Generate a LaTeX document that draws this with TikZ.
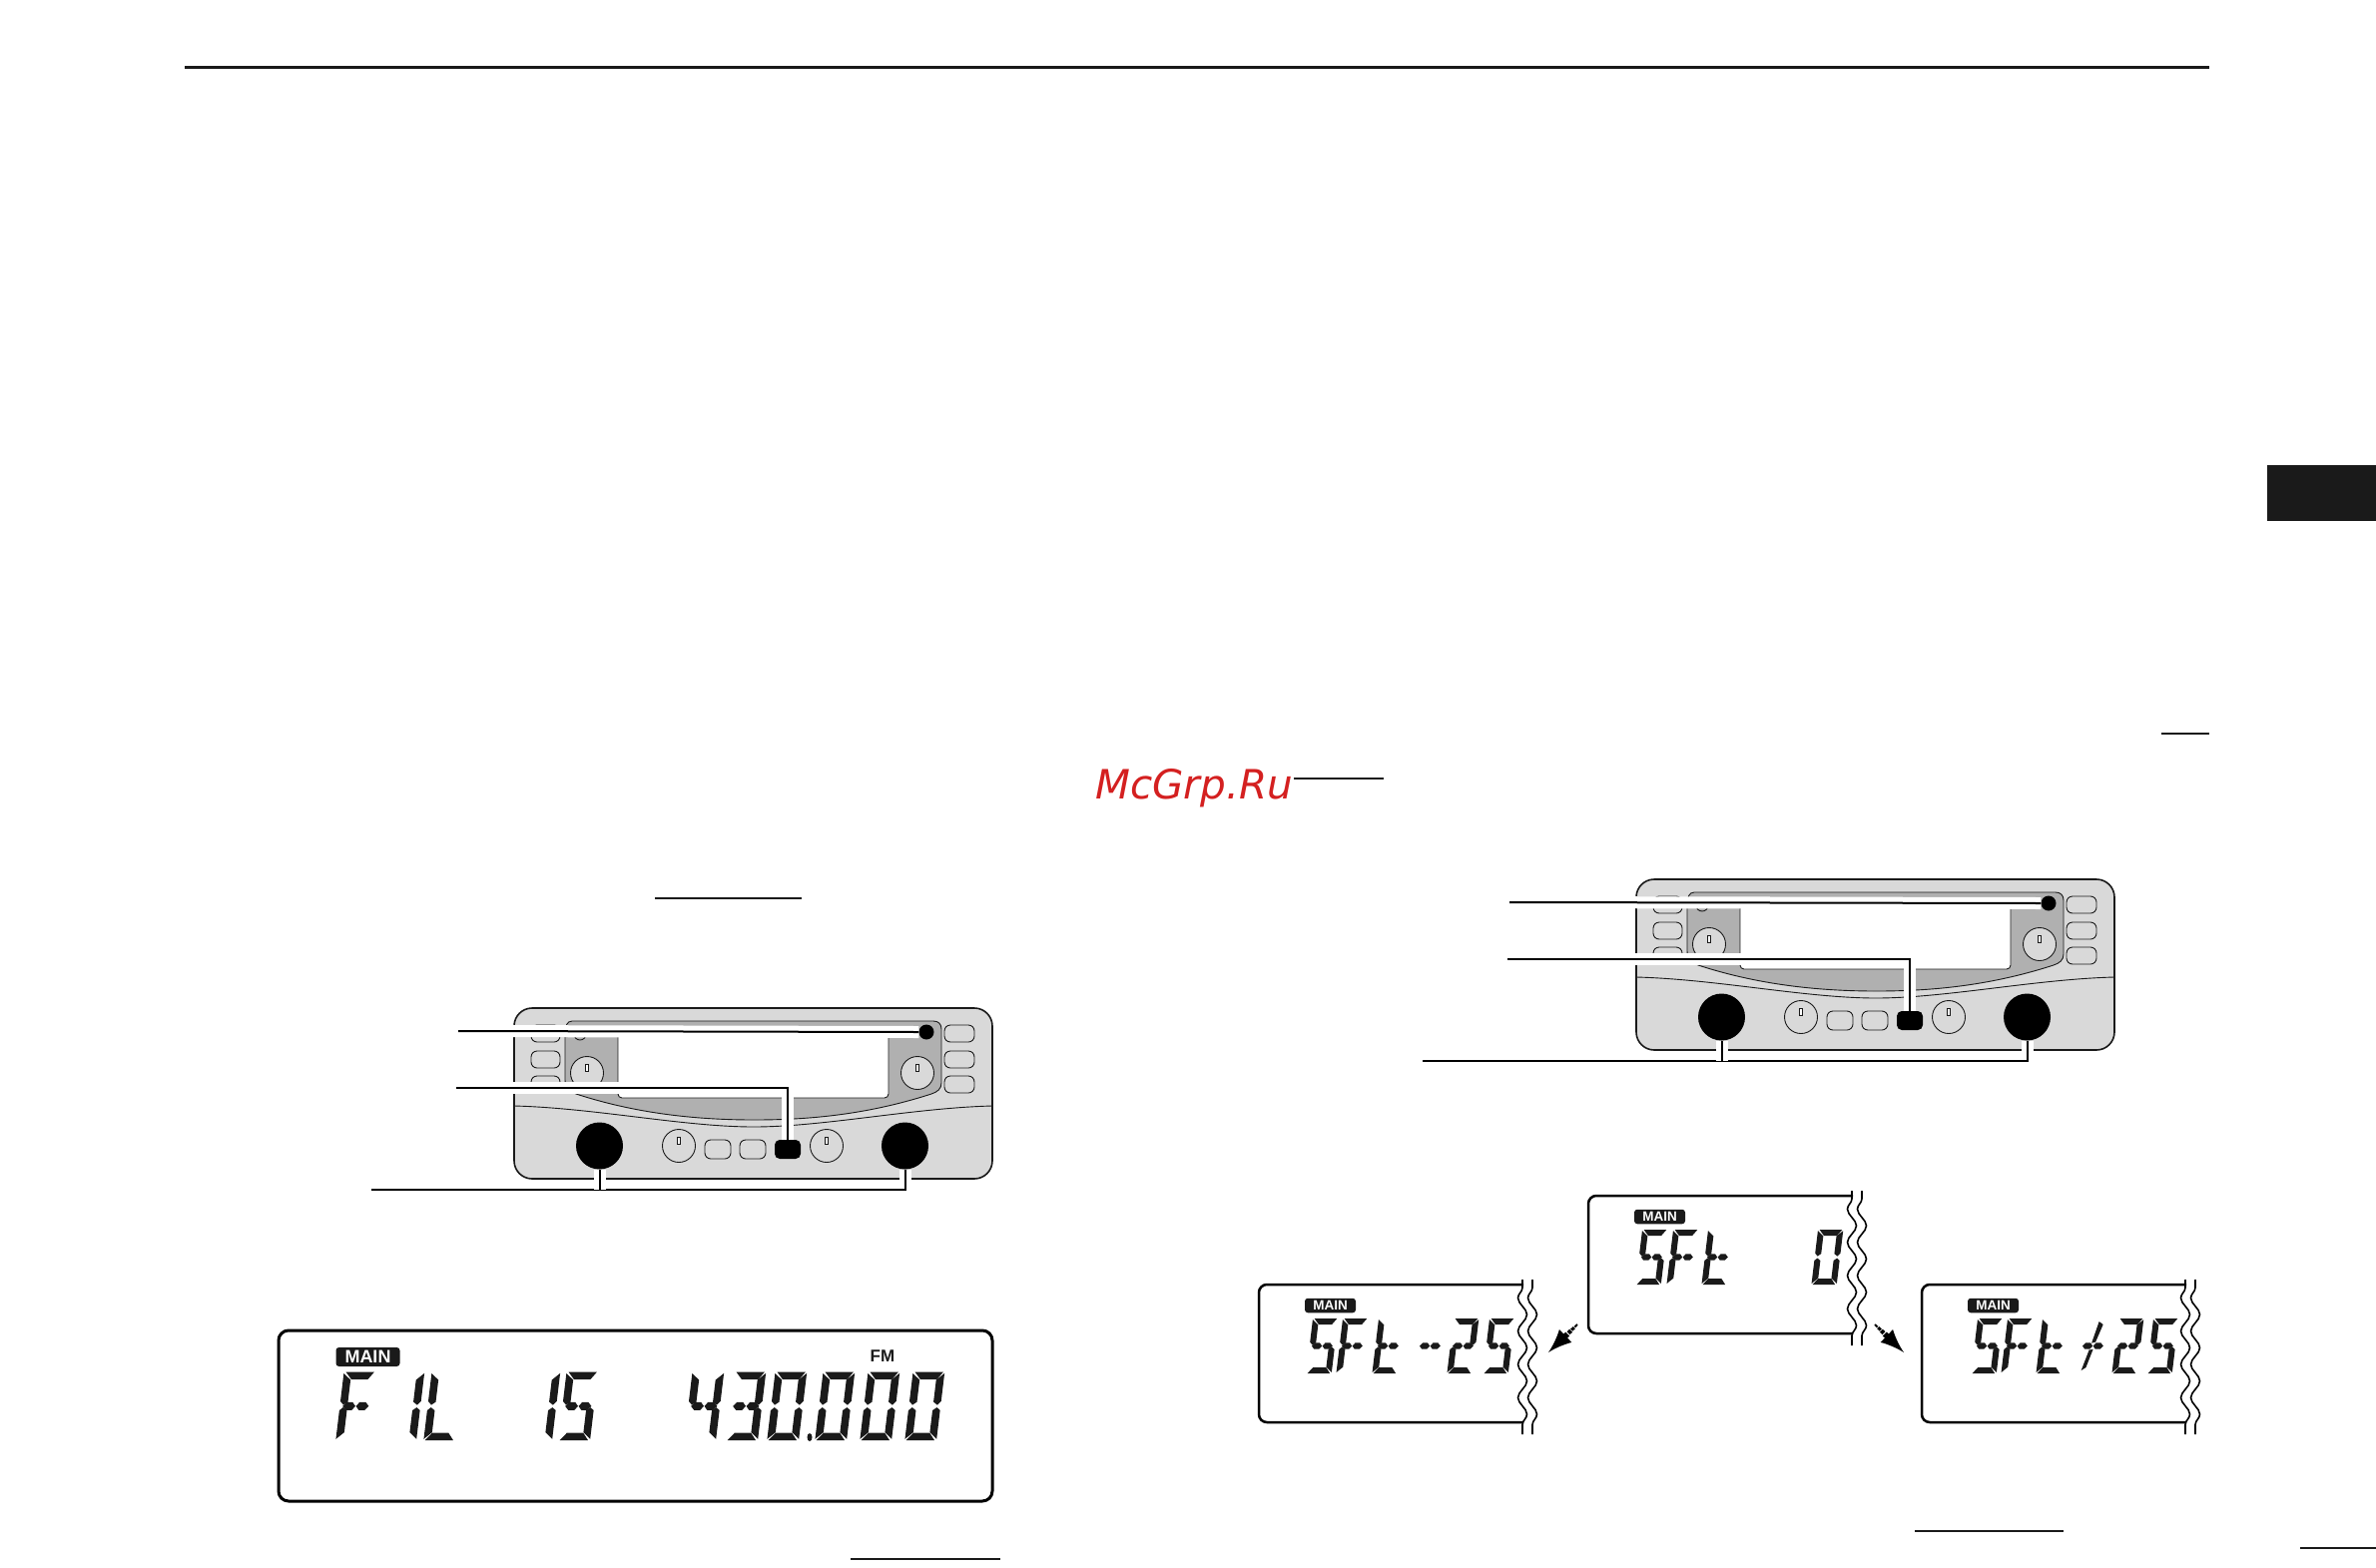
\documentclass[tikz,border=0pt]{standalone}
\usepackage{fontspec}
\setmainfont{Liberation Sans}
\newfontfamily\markfont{DejaVu Sans}
\usetikzlibrary{decorations.pathmorphing,calc}
\definecolor{panelgrey}{HTML}{D9D9D9}
\definecolor{innergrey}{HTML}{B0B0B0}
\definecolor{inkdark}{HTML}{1A1A1A}
\definecolor{markred}{HTML}{D42020}
\tikzset{
  >=latex,
  radio/.pic={
    \draw[casing] (0,0) rectangle (479,171);
    \draw[thin line,fill=innergrey] (58,13)--(420,13)
      .. controls (425,13) and (428,16) .. (428,21)--(428,75)
      .. controls (428,81) and (424,84) .. (418,86)
      .. controls (350,108) and (290,112) .. (240,112)
      .. controls (180,112) and (120,105) .. (62,86)
      .. controls (55,84) and (51,80) .. (51,72)--(51,26)
      .. controls (51,18) and (53,13) .. (58,13)--cycle;
    \draw[thin line,fill=white,rounded corners=4] (104,25) rectangle (375,90);
    \draw[thin line] (0,98) .. controls (80,100) and (170,119) .. (240,119)
      .. controls (310,119) and (400,100) .. (479,98);
    \foreach \ypos in {17,43,68} {
      \draw[softkey] (17,\ypos) rectangle (46,\ypos+17);
      \draw[softkey] (431,\ypos) rectangle (461,\ypos+17);
    }
    \draw[softkey] (191,132) rectangle (217,151);
    \draw[softkey] (226,132) rectangle (252,151);
    \draw[thin line] (66,26) circle (6);
    \foreach \xpos/\ypos in {73/65,404/65,165/138,313/138} {
      \draw[thin line,fill=panelgrey] (\xpos,\ypos) circle (16.5);
      \draw[thin line,fill=white] (\xpos-1.5,\ypos-9) rectangle (\xpos+1.5,\ypos-2);
    }
    \node[blackdot,minimum size=15] (-dot) at (413,24) {};
    \node[blackkey] (-key) at (274,141.5) {};
    \node[blackdot] (-knobl) at (85.5,138) {};
    \node[blackdot] (-knobr) at (391.5,138) {};
  }
}
\tikzstyle{casing}=[line width=1.6,draw=inkdark,fill=panelgrey,rounded corners=18]
\tikzstyle{thin line}=[line width=.9,draw=inkdark]
\tikzstyle{softkey}=[thin line,rounded corners=6]
\tikzstyle{blackdot}=[circle,fill=black,inner sep=0,minimum size=47]
\tikzstyle{blackkey}=[rectangle,rounded corners=5,fill=black,inner sep=0,minimum width=26,minimum height=19]
\tikzstyle{leader}=[line width=2,preaction={draw=white,line width=12}]
\tikzstyle{rule}=[line width=2,inkdark]
\tikzstyle{frame}=[line width=2.5,black,rounded corners=8]
\tikzstyle{wave}=[line width=1.6,black,decorate,decoration={snake,mirror,pre length=8,segment length=33.3,amplitude=4.5}]
\tikzstyle{badge}=[fill=inkdark,rounded corners=3,inner sep=0,text=white,font=\bfseries]

% segments of one display digit, origin at its lower left corner
\def\lcdsega{(1,-56)--(21.5,-56)--(17.5,-50)--(5.5,-50)--cycle}
\def\lcdsegb{(22.5,-55)--(17,-49.5)--(17,-31.5)--(20,-29)--(22.5,-32)--cycle}
\def\lcdsegc{(22.5,-24.5)--(20,-27)--(17,-24.5)--(17,-6.5)--(22.5,-1)--cycle}
\def\lcdsegd{(.5,0)--(21,0)--(17,-6)--(5,-6)--cycle}
\def\lcdsege{(-.5,-24.5)--(2,-27)--(5,-24.5)--(5,-6.5)--(-.5,-1)--cycle}
\def\lcdsegf{(-.5,-55)--(5,-49.5)--(5,-31.5)--(2,-29)--(-.5,-32)--cycle}
\def\lcdsegg{(1.5,-28)--(4,-31.2)--(8.5,-31.2)--(10.8,-28)--(8.5,-24.8)--(4,-24.8)--cycle}
\def\lcdsegh{(11.2,-28)--(13.5,-31.2)--(18,-31.2)--(20.5,-28)--(18,-24.8)--(13.5,-24.8)--cycle}
\def\lcdsegi{(14,-53)--(18,-50)--(13,-32)--(9.5,-31)--cycle}
\def\lcdsegj{(8,-24)--(11.5,-24.5)--(7,-6)--(3,-3)--cycle}

\newcommand{\lcdchar}[5]{% xscale, yscale, x, y, segments
  \begin{scope}[shift={(#3,#4)},xslant=.12,xscale=#1,yscale=#2]
    \foreach \seg in #5 {
      \expandafter\let\expandafter\lcdpath\csname lcdseg\seg\endcsname
      \fill[inkdark] \lcdpath;
    }
  \end{scope}
}
\newcommand{\shiftbox}[3]{% x, y, digits
  \draw[frame] (#1+265,#2)--(#1,#2)--(#1,#2+138)--(#1+265,#2+138);
  \draw[wave] (#1+264,#2-5)--(#1+264,#2+150);
  \draw[wave] (#1+274,#2-5)--(#1+274,#2+150);
  \node[badge,minimum width=51,minimum height=14.5,font=\bfseries\fontsize{13.5}{14}\selectfont] (main#1) at (#1+71.5,#2+21) {MAIN};
  \foreach \dx/\segs in {#3} {
    \lcdchar{1.1}{.98}{#1+\dx}{#2+89}{\segs}
  }
}
\newcommand{\hoparrow}[2]{% tail, tip
  \foreach \pos/\wid in {0/2,.11/3,.22/4.2,.34/5.5} {
    \draw[line width=\wid] ($(#1)!\pos!(#2)$)--($(#1)!\pos+.09!(#2)$);
  }
  \draw[line width=7,->] ($(#1)!.46!(#2)$)--(#2);
}

\begin{document}
\begin{tikzpicture}[x=1pt,y=-1pt]
    \fill[white] (0,0) rectangle (2380,1571);
    \useasboundingbox (0,0) rectangle (2380,1571);
    % page furniture
    \draw[line width=3.5,inkdark] (185,67.5)--(2213,67.5);
    \fill[inkdark] (2271,466) rectangle (2380,522);
    \draw[rule] (2304,1551)--(2380,1551);
    \draw[rule] (2165,735)--(2213,735);
    \draw[rule] (1296,780)--(1386,780);
    \draw[rule] (656,900)--(803,900);
    \draw[rule] (852,1562)--(1002,1562);
    \draw[rule] (1918,1534)--(2067,1534);
    \node[anchor=base west,inner sep=0,text=markred,font=\markfont\itshape\fontsize{40.5}{42}\selectfont] (mark) at (1097,800) {McGrp.Ru};

    % left radio
    \pic (radioa) at (515,1010) {radio};
    \coordinate (leada) at (459,1033);
    \coordinate (leadb) at (457,1090);
    \coordinate (leadc) at (372,1192);
    \draw[leader] (leada)--(radioa-dot.west);
    \draw[leader] (leadb)-|(radioa-key.north);
    \draw[leader] (leadc)-|(radioa-knobr.south);
    \draw[leader] (radioa-knobl.south)--(radioa-knobl.south|-leadc);

    % right radio
    \pic (radiob) at (1639,881) {radio};
    \coordinate (leadd) at (1512,904);
    \coordinate (leade) at (1510,961);
    \coordinate (leadf) at (1425,1063);
    \draw[leader] (leadd)--(radiob-dot.west);
    \draw[leader] (leade)-|(radiob-key.north);
    \draw[leader] (leadf)-|(radiob-knobr.south);
    \draw[leader] (radiob-knobl.south)--(radiob-knobl.south|-leadf);

    % large display
    \draw[line width=3,black,rounded corners=10] (279,1333) rectangle (994,1504);
    \node[badge,minimum width=64,minimum height=19,font=\bfseries\fontsize{18}{19}\selectfont] (mainbig) at (368.5,1359.5) {MAIN};
    \node[inner sep=0,text=inkdark,font=\bfseries\fontsize{17}{18}\selectfont] (fm) at (884,1359) {FM};
    \foreach \xpos/\segs in {
      337/{a,f,g,h,e},386/{b,c},425/{f,e,d},
      522/{b,c},560/{a,f,g,h,c,d},
      686/{f,g,h,b,c},728/{a,b,g,h,c,d},769/{a,b,c,d,e,f},
      817/{a,b,c,d,e,f},862/{a,b,c,d,e,f},907/{a,b,c,d,e,f}} {
      \lcdchar{1.38}{1.22}{\xpos}{1443}{\segs}
    }
    \fill[inkdark] (811,1440) ellipse (2.5 and 4);

    % shift displays
    \shiftbox{1591}{1198}{
      48/{a,f,g,h,c,d},79/{a,f,g,h,e},114/{f,e,g,h,d},224/{a,b,c,d,e,f}}
    \shiftbox{1261}{1287}{
      48/{a,f,g,h,c,d},78/{a,f,g,h,e},114/{f,e,g,h,d},156/{g,h},189/{a,b,g,h,e,d},225/{a,f,g,h,c,d}}
    \shiftbox{1925}{1287}{
      50/{a,f,g,h,c,d},80/{a,f,g,h,e},115/{f,e,g,h,d},156/{g,h,i,j},191/{a,b,g,h,e,d},226/{a,f,g,h,c,d}}

    \coordinate (hopla) at (1580,1327);
    \coordinate (hoplb) at (1551,1355);
    \coordinate (hopra) at (1878,1327);
    \coordinate (hoprb) at (1907,1355);
    \hoparrow{hopla}{hoplb}
    \hoparrow{hopra}{hoprb}
  \end{tikzpicture}
\end{document}
